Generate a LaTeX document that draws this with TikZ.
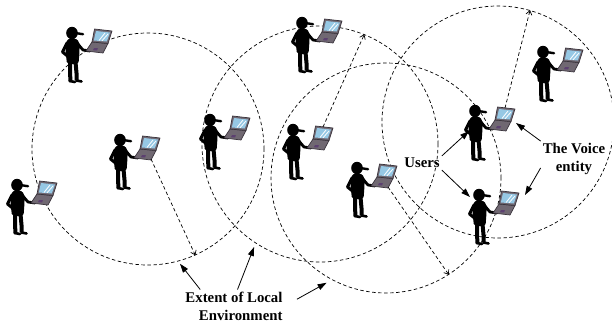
\documentclass[tikz,border=0pt]{standalone}
\usepackage{fontspec}
\setmainfont{Liberation Serif}
\usetikzlibrary{arrows.meta}

\definecolor{lapbody}{RGB}{112,104,114}
\definecolor{lapedge}{RGB}{58,52,60}
\definecolor{lapscreen}{RGB}{150,200,228}
\definecolor{lappad}{RGB}{92,64,112}

\tikzset{
  user/.pic={
    % figure
    \fill (0,0) ellipse (5.8 and 6.2);
    \draw[line width=2.4pt, line cap=round] (3,0) -- (11,1.2);
    \fill[rounded corners=2pt] (-3,5) -- (3,5) -- (7.5,9) -- (7.5,18) -- (6.5,31)
      -- (-5,31) -- (-6.5,18) -- (-6.5,10) -- cycle;
    \draw[line width=3pt, line cap=round, line join=round] (-5,10) -- (-9.5,19) -- (-2,25);
    \draw[line width=2.8pt, line cap=round, line join=round] (5,10) -- (11,17) -- (18,18);
    \draw[line width=4pt, line join=round] (-2,29) -- (-2,40) -- (-1.5,47.5);
    \draw[line width=4pt, line join=round] (3.5,29) -- (4.5,40) -- (4.5,47);
    \draw[line width=2.6pt, line cap=round] (-2.5,48) -- (3,49);
    \draw[line width=2.6pt, line cap=round] (4.5,47.5) -- (9.5,48.5);
    % laptop
    \filldraw[fill=lapbody, draw=lapedge, line width=0.7pt, line join=round]
      (20,9) -- (36,10.5) -- (31,20) -- (14,18) -- cycle;
    \fill[lappad] (22,15) -- (26,15.3) -- (25,17.5) -- (21,17.2) -- cycle;
    \filldraw[fill=lapbody, draw=lapedge, line width=0.7pt, line join=round]
      (22.5,-4) -- (40,-2) -- (36,10.5) -- (20,9) -- cycle;
    \fill[lapscreen] (24,-2) -- (38,-0.5) -- (34.8,8.5) -- (21.8,7.5) -- cycle;
    \draw[white, line width=0.8pt] (27,7.5) -- (33,0) (30,7.8) -- (36,1);
    \coordinate (-top) at (30,-3);
    \coordinate (-bot) at (31,19);
    \coordinate (-arm) at (-6,20);
    \coordinate (-hd) at (-9,2);
    \coordinate (-lr) at (41,12);
    \coordinate (-lt) at (46,0);
  }
}

\begin{document}
\begin{tikzpicture}[x=1pt, y=-1pt,
    envzone/.style={circle, draw, dashed, dash pattern=on 3.5pt off 2.5pt,
                    line width=0.7pt, inner sep=0pt},
    reach/.style={dashed, dash pattern=on 3.5pt off 2.5pt, line width=0.7pt,
                  -{Straight Barb[length=4pt, width=6pt]}},
    pointer/.style={line width=0.8pt, -{Triangle[length=9pt, width=6pt]}},
    caption/.style={font=\bfseries\fontsize{14.8}{18}\selectfont, inner sep=2pt},
]
\useasboundingbox (0,0) rectangle (612,324);

\node[envzone, minimum size=232pt] (env1) at (148,149) {};
\node[envzone, minimum size=236pt] (env2) at (320,144) {};
\node[envzone, minimum size=230pt] (env3) at (386,178) {};
\node[envzone, minimum size=232pt] (env4) at (498,122) {};

\pic (u1)  at (72,33)   {user};
\pic (u2)  at (120,140) {user};
\pic (u3)  at (17,185)  {user};
\pic (u4)  at (210,120) {user};
\pic (u5)  at (302,23)  {user};
\pic (u6)  at (293,130) {user};
\pic (u7)  at (357,168) {user};
\pic (u8)  at (543,52)  {user};
\pic (u9)  at (475,111) {user};
\pic (u10) at (479,195) {user};

\draw[reach] (u2-bot) -- (env1.-66);
\draw[reach] (u6-top) -- (env2.68);
\draw[reach] (u7-bot) -- (env3.-57);
\draw[reach] (u9-top) -- (env4.74);

\node[caption] (users) at (422,163) {Users};
\node[caption, align=center] (voice) at (574,159) {The Voice\\entity};
\node[caption, align=right] (extent) at (234,306) {Extent of Local\\Environment};

\draw[pointer] (users.north east) -- (u9-arm);
\draw[pointer] (users.south east) -- (u10-hd);
\draw[pointer] (voice.north west) -- (u9-lr);
\draw[pointer] (voice.195) -- (u10-lt);
\draw[pointer, shorten >=3pt] (extent.154) -- (env1.-75);
\draw[pointer, shorten >=4pt] (extent.78) -- (env2.-123);
\draw[pointer, shorten <=14pt, shorten >=6pt] (extent.east) -- (env3.-118);
\end{tikzpicture}
\end{document}
